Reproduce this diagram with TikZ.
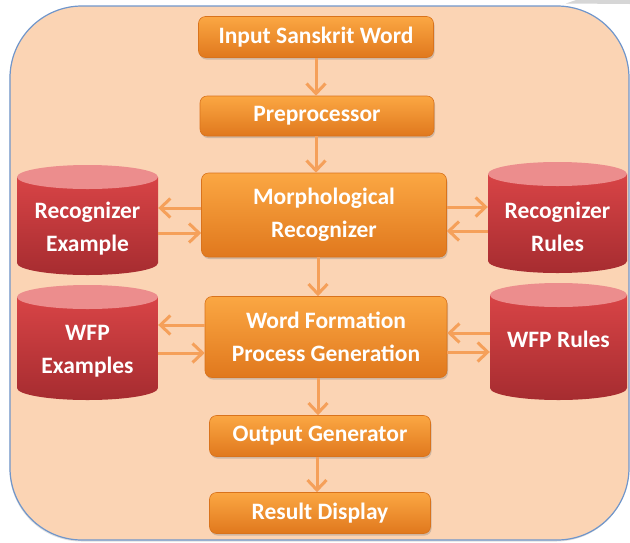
\documentclass[tikz,border=0pt]{standalone}
\usepackage{fontspec}
\setmainfont{Carlito}
\usetikzlibrary{arrows.meta}
\usetikzlibrary{shadows}
\definecolor{peach}{HTML}{FBD4B4}
\definecolor{bgline}{HTML}{7096CB}
\definecolor{boxtop}{HTML}{FBA743}
\definecolor{boxbot}{HTML}{E0781D}
\definecolor{boxedge}{HTML}{D9731C}
\definecolor{dbtop}{HTML}{D84446}
\definecolor{dbbot}{HTML}{A62C30}
\definecolor{dbend}{HTML}{EC8D8D}
\definecolor{flowcol}{HTML}{F5A05A}
\tikzset{
	labeltext/.style = {align=center, text=white, inner sep=0pt,
		font=\bfseries\fontsize{23.5}{33}\selectfont},
	procbox/.style = {labeltext, rectangle, rounded corners=7pt,
		top color=boxtop, bottom color=boxbot, draw=boxedge, line width=0.6pt,
		drop shadow={shadow xshift=1pt, shadow yshift=-2pt, opacity=0.35}},% orange step box
	dbbody/.style = {labeltext, rectangle, yshift=-3pt},% text area of a cylinder
	flow/.style = {draw=flowcol, line width=3pt,
		-{Straight Barb[length=10pt, width=19pt]}}
}
% cylinder: name, centre of body, half width, half height, text
\newcommand{\dbcyl}[5]{
	\shade[top color=dbtop, bottom color=dbbot]
		([shift={(-#3pt,#4pt)}]#2) -- ([shift={(-#3pt,-#4pt+12pt)}]#2)
		arc[start angle=180, end angle=360, x radius=#3pt, y radius=12pt]
		-- ([shift={(#3pt,#4pt)}]#2) -- cycle;
	\fill[dbend] ([yshift=#4pt]#2) ellipse[x radius=#3pt, y radius=12pt];
	\node[dbbody, minimum width=2*#3pt, minimum height=2*#4pt] (#1) at (#2) {#5};
}

\begin{document}
\begin{tikzpicture}[x=1pt, y=-1pt]
	\useasboundingbox (0,0) rectangle (630,542);
	\fill[black!16] (566,3.5) -- (576,0) -- (630,0) -- (630,4) -- cycle;
	\draw[bgline, line width=1.2pt, fill=peach, rounded corners=72pt,
		drop shadow={shadow xshift=-0.5pt, shadow yshift=-1.5pt, opacity=0.25}]
		(10,6) rectangle (629,540);

	% steps
	\node[procbox, minimum width=235pt, minimum height=41pt] (inword) at (316,37) {Input Sanskrit Word};
	\node[procbox, minimum width=234pt, minimum height=40pt] (prep) at (317,116) {Preprocessor};
	\node[procbox, minimum width=245pt, minimum height=84pt] (morph) at (324,215) {Morphological\\Recognizer};
	\node[procbox, minimum width=242pt, minimum height=81pt] (wfpgen) at (326,337) {Word Formation\\Process Generation};
	\node[procbox, minimum width=221pt, minimum height=41pt] (outgen) at (320,436) {Output Generator};
	\node[procbox, minimum width=221pt, minimum height=41pt] (result) at (320,513) {Result Display};

	% data stores
	\dbcyl{recex}{87.5,226}{70.5}{49}{Recognizer\\Example}
	\dbcyl{recrul}{557.5,223.5}{69.5}{49.5}{Recognizer\\Rules}
	\dbcyl{wfpex}{87.5,348.5}{70.5}{51.5}{WFP\\Examples}
	\dbcyl{wfprul}{558.5,347.5}{68.5}{52.5}{\raisebox{11pt}[\height][\depth]{WFP Rules}}

	% main flow
	\draw[flow] (inword.south) -- (prep.north -| inword.south);
	\draw[flow] (prep.south -| inword.south) -- (morph.north -| inword.south);
	\draw[flow] ([xshift=-6pt]morph.south) -- ([xshift=-6pt]morph.south |- wfpgen.north);
	\draw[flow] ([xshift=-8pt]wfpgen.south) -- ([xshift=-8pt]wfpgen.south |- outgen.north);
	\draw[flow] ([xshift=-3pt]outgen.south) -- ([xshift=-3pt]outgen.south |- result.north);

	% exchanges with the stores
	\draw[flow] ([yshift=7pt]morph.west) -- ([yshift=7pt]morph.west -| recex.east);
	\draw[flow] ([yshift=-18pt]morph.west -| recex.east) -- ([yshift=-18pt]morph.west);
	\draw[flow] ([yshift=8pt]morph.east) -- ([yshift=8pt]morph.east -| recrul.west);
	\draw[flow] ([yshift=-16pt]morph.east -| recrul.west) -- ([yshift=-16pt]morph.east);
	\draw[flow] ([yshift=12pt]wfpgen.west) -- ([yshift=12pt]wfpgen.west -| wfpex.east);
	\draw[flow] ([yshift=-16pt]wfpgen.west -| wfpex.east) -- ([yshift=-16pt]wfpgen.west);
	\draw[flow] ([yshift=4pt]wfpgen.east -| wfprul.west) -- ([yshift=4pt]wfpgen.east);
	\draw[flow] ([yshift=-15pt]wfpgen.east) -- ([yshift=-15pt]wfpgen.east -| wfprul.west);
\end{tikzpicture}
\end{document}
